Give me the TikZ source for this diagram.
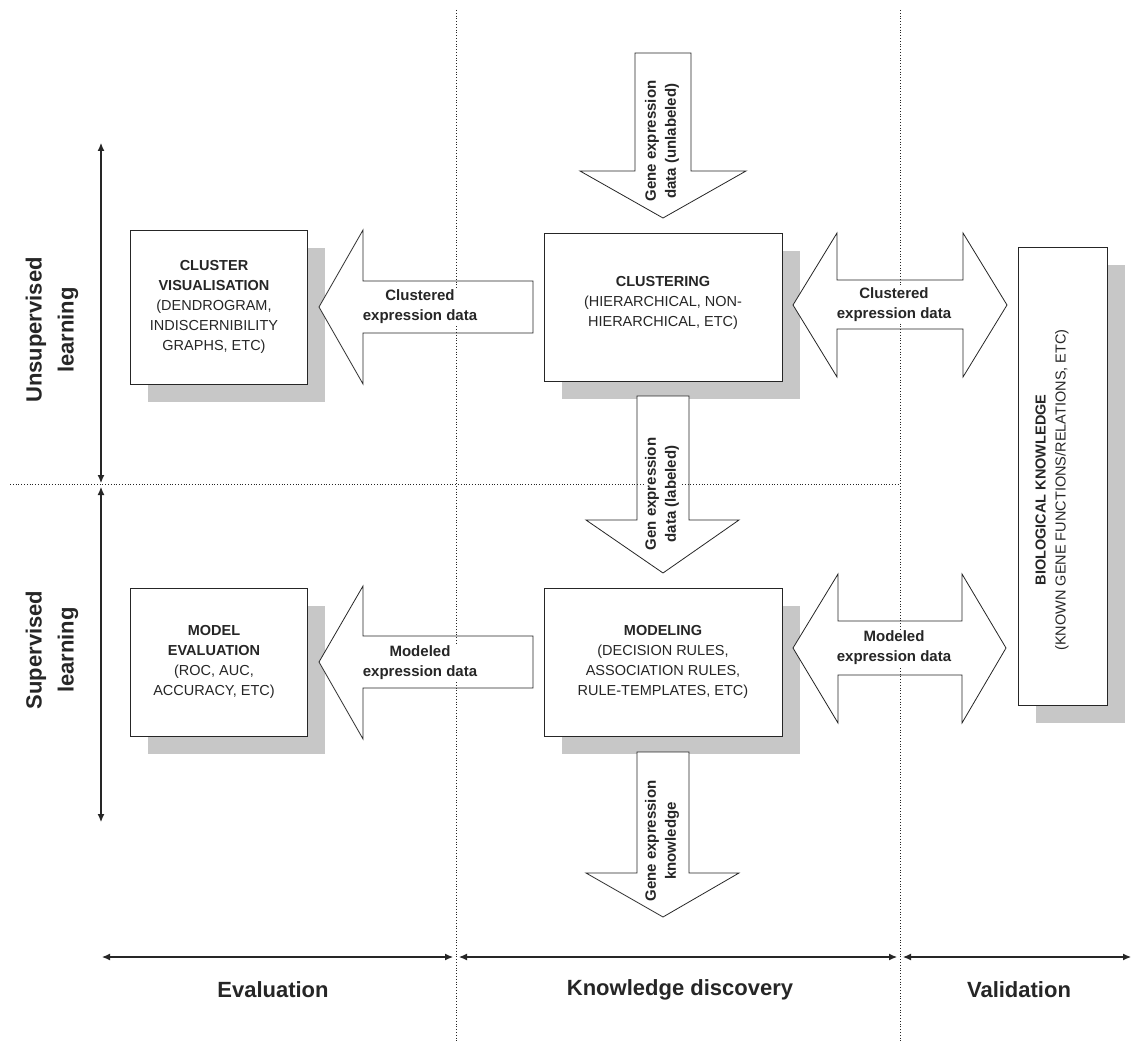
\documentclass[tikz,border=0pt]{standalone}
\usepackage{fontspec}
\setmainfont{Liberation Sans}
\usepackage{tikz}
\usetikzlibrary{arrows.meta,shadows}
\definecolor{shade}{gray}{0.78}
\definecolor{ink}{gray}{0.15}
\tikzset{
  box/.style={draw=ink, fill=white, line width=0.9pt, inner sep=0pt,
    drop shadow={fill=shade, opacity=1, shadow xshift=18pt, shadow yshift=-18pt}},
  boxtext/.style={align=center, inner sep=0pt, text=ink, font=\fontsize{14.5}{20}\selectfont},
  blockarrow/.style={draw=ink, fill=white, line width=0.8pt, line join=miter},
  arrowlabel/.style={align=center, inner sep=1pt, fill=white, text=ink, font=\bfseries\fontsize{15}{20}\selectfont},
  sidelabel/.style={align=center, inner sep=0pt, text=ink, font=\bfseries\fontsize{22}{32}\selectfont},
  divider/.style={ink, dotted, line width=0.8pt},
  rangearrow/.style={ink, line width=1.1pt, {Latex[length=8pt,width=7pt]}-{Latex[length=8pt,width=7pt]}}
}

\begin{document}
\begin{tikzpicture}[x=1pt,y=-1pt]
\useasboundingbox (0,0) rectangle (1133,1043);

% boxes
\node[box, minimum width=177pt, minimum height=154pt] (clvis) at (218.5,307) {};
\node[boxtext] (clvistext) at (214,307) {\textbf{CLUSTER}\\\textbf{VISUALISATION}\\(DENDROGRAM,\\INDISCERNIBILITY\\GRAPHS, ETC)};
\node[box, minimum width=177pt, minimum height=148pt] (modev) at (218.5,662) {};
\node[boxtext] (modevtext) at (214,662) {\textbf{MODEL}\\\textbf{EVALUATION}\\(ROC, AUC,\\ACCURACY, ETC)};
\node[box, minimum width=238pt, minimum height=148pt] (clust) at (663,307) {};
\node[boxtext] (clusttext) at (663,303) {\textbf{CLUSTERING}\\(HIERARCHICAL, NON-\\HIERARCHICAL, ETC)};
\node[box, minimum width=238pt, minimum height=148pt] (model) at (663,662) {};
\node[boxtext] (modeltext) at (model.center) {\textbf{MODELING}\\(DECISION RULES,\\ASSOCIATION RULES,\\RULE-TEMPLATES, ETC)};
\node[box, minimum width=89pt, minimum height=458pt] (bio) at (1062.5,476) {};
\node[boxtext, rotate=90] (biotext) at (1052,490) {\textbf{BIOLOGICAL KNOWLEDGE}\\(KNOWN GENE FUNCTIONS/RELATIONS, ETC)};

% block arrows
\draw[blockarrow] (635,53) -- (691,53) -- (691,171) -- (746,171) -- (663,218) -- (580,171) -- (635,171) -- cycle;
\draw[blockarrow] (637,396) -- (689,396) -- (689,520) -- (739,520) -- (663,573) -- (586,520) -- (637,520) -- cycle;
\draw[blockarrow] (637,752) -- (689,752) -- (689,873) -- (739,873) -- (663,917) -- (586,873) -- (637,873) -- cycle;
\draw[blockarrow] (533,281) -- (363,281) -- (363,230) -- (319,307) -- (363,384) -- (363,333) -- (533,333) -- cycle;
\draw[blockarrow] (533,636) -- (363,636) -- (363,586) -- (319,662) -- (363,739) -- (363,688) -- (533,688) -- cycle;
\draw[blockarrow] (837,280) -- (963,280) -- (963,233) -- (1007,305) -- (963,377) -- (963,329)
  -- (837,329) -- (837,377) -- (793,305) -- (837,233) -- cycle;
\draw[blockarrow] (838,621) -- (962,621) -- (962,574) -- (1006,648) -- (962,723) -- (962,675)
  -- (838,675) -- (838,723) -- (793,648) -- (838,574) -- cycle;

% dividers
\draw[divider] (456,10) -- (456,1043);
\draw[divider] (900,10) -- (900,1043);
\draw[divider] (10,484) -- (900,484);

% arrow labels
\node[arrowlabel, rotate=90] (unlab) at (662,141) {Gene expression\\data (unlabeled)};
\node[arrowlabel, rotate=90] (lab) at (662,494) {Gen expression\\data (labeled)};
\node[arrowlabel, rotate=90] (know) at (662,841) {Gene expression\\knowledge};
\node[arrowlabel] (clout) at (420,307) {Clustered\\expression data};
\node[arrowlabel] (moout) at (420,663) {Modeled\\expression data};
\node[arrowlabel] (clval) at (894,305) {Clustered\\expression data};
\node[arrowlabel] (moval) at (894,648) {Modeled\\expression data};

% learning ranges
\coordinate (u1) at (101,143);
\coordinate (u2) at (101,483);
\coordinate (s1) at (101,487);
\coordinate (s2) at (101,822);
\draw[rangearrow] (u1) -- (u2);
\draw[rangearrow] (s1) -- (s2);
\node[sidelabel, rotate=90] (unsup) at (52,330) {Unsupervised\\learning};
\node[sidelabel, rotate=90] (sup) at (52,650) {Supervised\\learning};

% stage ranges
\coordinate (e1) at (102,957);
\coordinate (e2) at (453,957);
\coordinate (k1) at (459,957);
\coordinate (k2) at (897,957);
\coordinate (v1) at (903,957);
\coordinate (v2) at (1131,957);
\draw[rangearrow] (e1) -- (e2);
\draw[rangearrow] (k1) -- (k2);
\draw[rangearrow] (v1) -- (v2);
\node[sidelabel] (eval) at (273,990) {Evaluation};
\node[sidelabel] (disc) at (680,990) {Knowledge discovery};
\node[sidelabel] (valid) at (1019,990) {Validation};
\end{tikzpicture}
\end{document}
